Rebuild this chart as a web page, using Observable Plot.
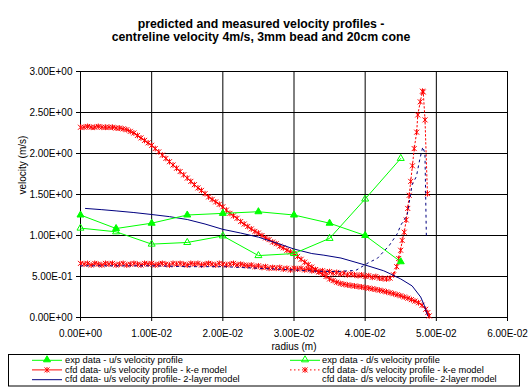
<!DOCTYPE html>
<html><head><meta charset="utf-8">
<script src="https://cdn.jsdelivr.net/npm/d3@7"></script>
<script src="https://cdn.jsdelivr.net/npm/@observablehq/plot@0.6"></script>
<style>
html,body{margin:0;padding:0;background:#fff;}
#wrap{position:relative;width:530px;height:390px;overflow:hidden;background:#fff;font-family:"Liberation Sans",Arial,sans-serif;}
#chart{position:absolute;left:0;top:0;}
#over{position:absolute;left:0;top:0;pointer-events:none;}
</style></head><body><div id="wrap"><div id="chart"></div></div>
<script>
// ---------- data ----------
const titleLines = ["predicted and measured velocity profiles -", "centreline velocity 4m/s, 3mm bead and 20cm cone"];
const xLabel = "radius (m)";
const yLabel = "velocity (m/s)";
const xTicks = [0, 0.01, 0.02, 0.03, 0.04, 0.05, 0.06];
const xTickLabels = ["0.00E+00", "1.00E-02", "2.00E-02", "3.00E-02", "4.00E-02", "5.00E-02", "6.00E-02"];
const yTicks = [0, 0.5, 1, 1.5, 2, 2.5, 3];
const yTickLabels = ["0.00E+00", "5.00E-01", "1.00E+00", "1.50E+00", "2.00E+00", "2.50E+00", "3.00E+00"];
const seriesNames = [
  "exp data - u/s velocity profile",
  "exp data - d/s velocity profile",
  "cfd data- u/s velocity profile - k-e model",
  "cfd data- d/s velocity profile - k-e model",
  "cfd data- u/s velocity profile- 2-layer model",
  "cfd data- d/s velocity profile- 2-layer model"
];

const expX  = [0, 0.005, 0.01, 0.015, 0.02, 0.025, 0.03, 0.035, 0.04, 0.045];
const expUs = [1.25, 1.085, 1.15, 1.25, 1.27, 1.29, 1.25, 1.15, 1.0, 0.68];
const expDs = [1.09, 1.045, 0.895, 0.915, 0.995, 0.755, 0.78, 0.965, 1.445, 1.94];

const usKEx = [0,0.0005,0.001,0.0015,0.002,0.0025,0.003,0.0035,0.004,0.0045,0.005,0.0055,0.006,0.0065,0.007,0.0075,0.008,0.0085,0.009,0.0095,
  0.01,0.0105,0.011,0.0115,0.012,0.0125,0.013,0.0135,0.014,0.0145,0.015,0.0155,0.016,0.0165,0.017,0.0175,0.018,0.0185,0.019,0.0195,
  0.02,0.0205,0.021,0.0215,0.022,0.0225,0.023,0.0235,0.024,0.0245,0.025,0.0255,0.026,0.0265,0.027,0.0275,0.028,0.0285,0.029,0.0295,
  0.03,0.0305,0.031,0.0315,0.032,0.0325,0.033,0.0335,0.034,0.0345,0.035,0.0355,0.036,0.0365,0.037,0.0375,0.038,0.0385,0.039,0.0395,
  0.04,0.0405,0.041,0.0415,0.042,0.0425,0.043,0.0435,0.044,0.0445,0.045,0.0455,0.046,0.0465,0.047,0.0475,0.048,0.0485,0.0488,0.049];
const usKEy = [2.32,2.32,2.33,2.32,2.32,2.33,2.32,2.32,2.32,2.32,2.31,2.31,2.30,2.29,2.27,2.25,2.22,2.19,2.16,2.13,
  2.10,2.06,2.02,1.98,1.94,1.90,1.86,1.82,1.78,1.74,1.70,1.66,1.62,1.58,1.55,1.51,1.47,1.44,1.41,1.38,
  1.35,1.31,1.27,1.24,1.21,1.17,1.14,1.11,1.08,1.05,1.03,1.00,0.97,0.95,0.92,0.90,0.87,0.85,0.82,0.80,
  0.78,0.745,0.71,0.675,0.645,0.615,0.585,0.555,0.53,0.50,0.47,0.45,0.43,0.415,0.405,0.397,0.39,0.384,0.378,0.372,
  0.365,0.358,0.35,0.342,0.333,0.323,0.313,0.302,0.29,0.278,0.265,0.25,0.235,0.218,0.20,0.18,0.15,0.10,0.06,0.02];

const dsKEx = [0,0.0005,0.001,0.0015,0.002,0.0025,0.003,0.0035,0.004,0.0045,0.005,0.0055,0.006,0.0065,0.007,0.0075,0.008,0.0085,0.009,0.0095,
  0.01,0.0105,0.011,0.0115,0.012,0.0125,0.013,0.0135,0.014,0.0145,0.015,0.0155,0.016,0.0165,0.017,0.0175,0.018,0.0185,0.019,0.0195,
  0.02,0.0205,0.021,0.0215,0.022,0.0225,0.023,0.0235,0.024,0.0245,0.025,0.0255,0.026,0.0265,0.027,0.0275,0.028,0.0285,0.029,0.0295,
  0.03,0.0305,0.031,0.0315,0.032,0.0325,0.033,0.0335,0.034,0.0345,0.035,0.0355,0.036,0.0365,0.037,0.0375,0.038,0.0385,0.039,0.0395,
  0.04,0.0405,0.041,0.0415,0.042,0.0425,0.043,0.0435,0.044,0.04443,0.04471,0.04499,0.0452,0.04549,0.04577,0.04598,0.04619,0.0464,
  0.04664,0.04689,0.04724,0.04739,0.04774,0.04805,0.04816,0.04841,0.04875];
const dsKEy = [0.66,0.65,0.66,0.64,0.66,0.65,0.64,0.66,0.65,0.66,0.64,0.65,0.66,0.64,0.65,0.66,0.65,0.64,0.66,0.65,
  0.66,0.64,0.65,0.66,0.65,0.64,0.66,0.65,0.66,0.65,0.64,0.66,0.65,0.66,0.64,0.65,0.66,0.65,0.64,0.66,
  0.65,0.64,0.65,0.66,0.64,0.65,0.64,0.63,0.64,0.62,0.63,0.61,0.62,0.60,0.61,0.60,0.61,0.59,0.60,0.58,
  0.60,0.59,0.60,0.58,0.59,0.57,0.58,0.56,0.57,0.55,0.56,0.54,0.55,0.53,0.54,0.52,0.53,0.52,0.51,0.52,
  0.50,0.51,0.49,0.50,0.48,0.475,0.47,0.48,0.52,0.62,0.72,0.82,0.94,1.04,1.19,1.33,1.49,1.66,
  1.85,2.06,2.26,2.47,2.63,2.76,2.75,2.41,1.51];

const us2x = [0.0007,0.003,0.005,0.0075,0.01,0.0125,0.015,0.0175,0.02,0.0225,0.025,0.0275,0.03,0.0325,0.0342,0.0366,0.04,0.0426,0.0436,0.045,0.0466,0.0478,0.0483,0.0486,0.0488];
const us2y = [1.33,1.315,1.30,1.28,1.256,1.23,1.195,1.14,1.075,1.03,0.98,0.91,0.835,0.78,0.76,0.725,0.64,0.57,0.53,0.47,0.385,0.25,0.15,0.07,0.02];

const ds2x = [0,0.005,0.01,0.015,0.02,0.025,0.03,0.033,0.036,0.0387,0.0405,0.0417,0.0434,0.0445,0.045,0.0459,0.0466,0.0472,0.0477,0.0481,0.0484,0.0486];
const ds2y = [0.63,0.63,0.63,0.62,0.62,0.60,0.58,0.565,0.56,0.575,0.67,0.72,0.88,1.02,1.125,1.25,1.62,1.72,1.94,2.08,2.0,0.98];

// ---------- build ----------
const zip = (xs, ys) => xs.map((x, i) => ({x, y: ys[i]}));
const expUsD = zip(expX, expUs), expDsD = zip(expX, expDs);
const usKE = zip(usKEx, usKEy), dsKE = zip(dsKEx, dsKEy);
const us2 = zip(us2x, us2y), ds2 = zip(ds2x, ds2y);

const GREEN = "#00ff00", RED = "#ff0000", NAVY = "#000080";
const star = {draw(ctx, size) {
  const r = Math.sqrt(size / Math.PI);
  ctx.moveTo(-r, -r); ctx.lineTo(r, r);
  ctx.moveTo(-r, r); ctx.lineTo(r, -r);
  ctx.moveTo(0, -r * 1.15); ctx.lineTo(0, r * 1.15);
}};

const chart = Plot.plot({
  width: 530, height: 352,
  marginLeft: 80, marginRight: 23, marginTop: 71, marginBottom: 35,
  style: {fontFamily: '"Liberation Sans", Arial, sans-serif', fontSize: "10px", color: "black", background: "white", overflow: "visible"},
  x: {domain: [0, 0.06]},
  y: {domain: [0, 3]},
  marks: [
    Plot.gridX(xTicks, {stroke: "black", strokeOpacity: 1, strokeWidth: 1}),
    Plot.gridY(yTicks, {stroke: "black", strokeOpacity: 1, strokeWidth: 1}),
    Plot.frame({stroke: "black", strokeWidth: 1}),
    Plot.line(usKE, {x: "x", y: "y", stroke: RED, strokeWidth: 1}),
    Plot.dot(usKE, {x: "x", y: "y", symbol: star, r: 2.5, fill: "none", stroke: RED, strokeWidth: 1}),
    Plot.line(dsKE, {x: "x", y: "y", stroke: RED, strokeWidth: 1, strokeDasharray: "1.5,2.5"}),
    Plot.dot(dsKE, {x: "x", y: "y", symbol: star, r: 2.5, fill: "none", stroke: RED, strokeWidth: 1}),
    Plot.line(us2, {x: "x", y: "y", stroke: NAVY, strokeWidth: 1}),
    Plot.line(ds2, {x: "x", y: "y", stroke: NAVY, strokeWidth: 1, strokeDasharray: "2,4"}),
    Plot.line(expUsD, {x: "x", y: "y", stroke: GREEN, strokeWidth: 1}),
    Plot.dot(expUsD, {x: "x", y: "y", symbol: "triangle", r: 2.6, fill: GREEN, stroke: GREEN, strokeWidth: 1}),
    Plot.line(expDsD, {x: "x", y: "y", stroke: GREEN, strokeWidth: 1}),
    Plot.dot(expDsD, {x: "x", y: "y", symbol: "triangle", r: 2.6, fill: "none", stroke: GREEN, strokeWidth: 1}),
    Plot.axisX(xTicks, {tickFormat: d => xTickLabels[xTicks.indexOf(d)], tickSize: 4, tickPadding: 8, label: null, stroke: "black"}),
    Plot.axisY(yTicks, {tickFormat: d => yTickLabels[yTicks.indexOf(d)], tickSize: 4, tickPadding: 4, label: null, stroke: "black"}),
    Plot.text([xLabel], {text: d => d, frameAnchor: "bottom", dy: 29, lineAnchor: "middle", fontSize: 10, fill: "black"}),
    Plot.text([yLabel], {text: d => d, frameAnchor: "left", dx: -58, rotate: -90, lineAnchor: "middle", fontSize: 10, fill: "black"})
  ]
});
document.getElementById("chart").appendChild(chart);

// ---------- title and legend overlay ----------
const svg = d3.select("#wrap").append("svg").attr("id", "over")
  .attr("width", 530).attr("height", 390)
  .style("font-family", '"Liberation Sans", Arial, sans-serif');

svg.selectAll("text.title").data(titleLines).join("text")
  .attr("class", "title")
  .attr("x", 261).attr("y", (d, i) => 27.7 + i * 13.6)
  .attr("text-anchor", "middle").attr("font-weight", "bold").attr("font-size", "12.3px")
  .attr("fill", "black").text(d => d);

svg.append("rect").attr("x", 8.5).attr("y", 354.5).attr("width", 511).attr("height", 31.5)
  .attr("fill", "white").attr("stroke", "black").attr("stroke-width", 1);

const rowsY = [359.8, 369.4, 379.2];
const cols = [{x0: 32, x1: 62, tx: 65}, {x0: 290, x1: 320, tx: 322}];
const legendStyles = [
  {stroke: GREEN, dash: null, marker: "tri", fill: GREEN},
  {stroke: GREEN, dash: null, marker: "tri", fill: "none"},
  {stroke: RED, dash: null, marker: "star"},
  {stroke: RED, dash: "1.5,2.5", marker: "star"},
  {stroke: NAVY, dash: null, marker: null},
  {stroke: null, dash: null, marker: null}
];
seriesNames.forEach((name, i) => {
  const c = cols[i % 2], y = rowsY[Math.floor(i / 2)], s = legendStyles[i];
  const g = svg.append("g");
  if (s.stroke) {
    g.append("line").attr("x1", c.x0).attr("x2", c.x1).attr("y1", y + 0.5).attr("y2", y + 0.5)
      .attr("stroke", s.stroke).attr("stroke-width", 1).attr("stroke-dasharray", s.dash);
  }
  const mx = (c.x0 + c.x1) / 2;
  if (s.marker === "tri") {
    g.append("path").attr("d", d3.symbol(d3.symbolTriangle, Math.PI * 2.6 * 2.6)())
      .attr("transform", `translate(${mx},${y})`).attr("fill", s.fill).attr("stroke", s.stroke);
  } else if (s.marker === "star") {
    g.append("path").attr("d", d3.symbol(star, Math.PI * 2.5 * 2.5)())
      .attr("transform", `translate(${mx},${y + 0.5})`).attr("fill", "none").attr("stroke", s.stroke);
  }
  g.append("text").attr("x", c.tx).attr("y", y + 3.2).attr("font-size", "9.3px").attr("fill", "black").text(name);
});
</script></body></html>
